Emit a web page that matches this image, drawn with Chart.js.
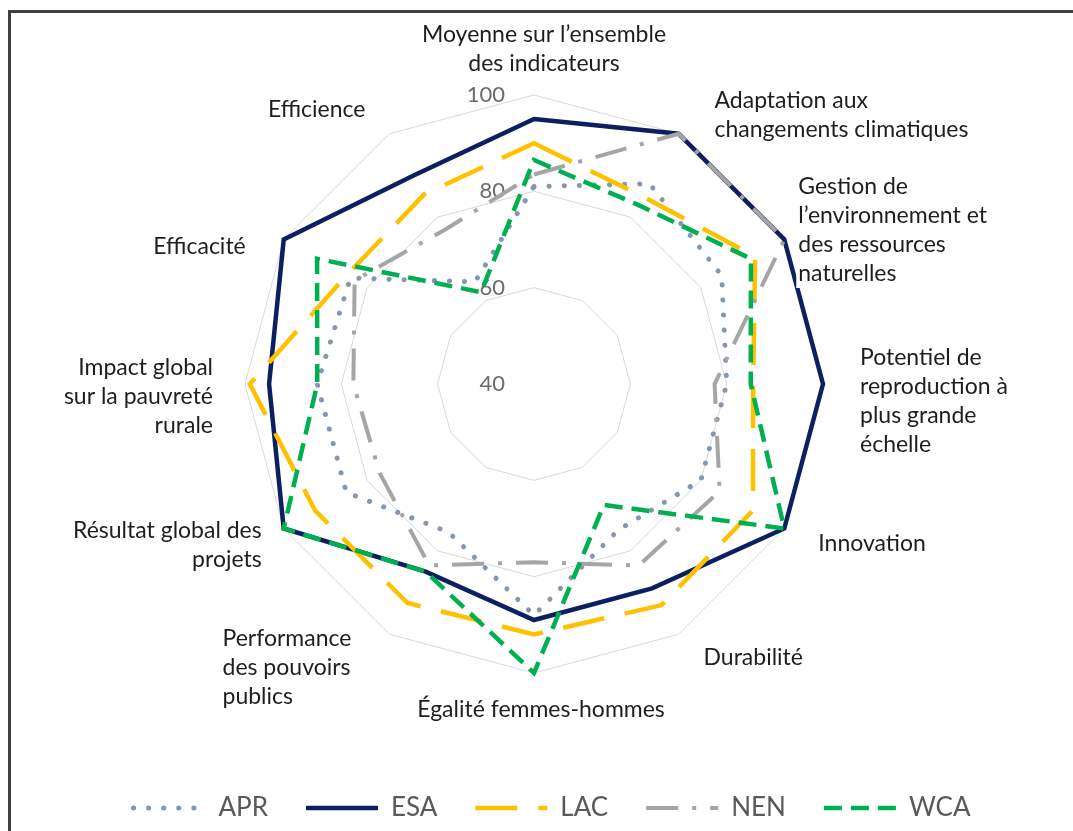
<!DOCTYPE html>
<html>
<head>
<meta charset="utf-8">
<script src="https://cdn.jsdelivr.net/npm/chart.js@4/dist/chart.umd.min.js"></script>
<style>
  html, body { margin: 0; padding: 0; background: #fff; overflow: hidden; }
  #wrap { position: relative; width: 1073px; height: 831px; overflow: hidden; }
  #frame { position: absolute; left: 8px; top: 10px; width: 1200px; height: 1000px;
    border-left: 3px solid #404040; border-top: 3px solid #404040; }
  #chart { position: absolute; left: 0; top: 0; }
</style>
</head>
<body>
<div id="wrap">
  <div id="frame"></div>
  <canvas id="chart" width="1073" height="831"></canvas>
</div>
<script>
// axes of the radar, clockwise from the top
const categories = [
  ['Moyenne sur l’ensemble', 'des indicateurs'],
  ['Adaptation aux', 'changements climatiques'],
  ['Gestion de', 'l’environnement et', 'des ressources', 'naturelles'],
  ['Potentiel de', 'reproduction à', 'plus grande', 'échelle'],
  ['Innovation'],
  ['Durabilité'],
  ['Égalité femmes-hommes'],
  ['Performance', 'des pouvoirs', 'publics'],
  ['Résultat global des', 'projets'],
  ['Impact global', 'sur la pauvreté', 'rurale'],
  ['Efficacité'],
  ['Efficience']
]

const apr = [81, 88, 85, 80, 80, 75, 88, 75.5, 85, 85, 84, 64.5]
const esa = [95, 100, 100, 100, 100, 89, 89, 85, 100, 95, 100, 90]
const lac = [90, 85, 93, 85.5, 92.5, 93, 92, 92.5, 92.5, 99, 85, 85.5]
const nen = [83.5, 100, 100, 77.5, 84.5, 83.5, 77, 83.5, 77, 77.5, 83, 77]
const wca = [86.5, 83, 92, 85, 100, 69, 100, 85, 100, 85, 92, 62]

const tickValues = [40, 60, 80, 100]

// where each axis title sits, relative to the outer ring vertex
const labelLayout = [
  { align: 'center', dx: 10, dy: -60 },
  { align: 'left', dx: 36, dy: -33 },
  { align: 'left', dx: 14, dy: -53 },
  { align: 'left', dx: 37, dy: -26 },
  { align: 'left', dx: 34, dy: 15 },
  { align: 'left', dx: 25, dy: 23 },
  { align: 'center', dx: 7, dy: 37 },
  { align: 'left', dx: -167, dy: 4 },
  { align: 'right', dx: -22, dy: 2 },
  { align: 'right', dx: -32, dy: -16 },
  { align: 'right', dx: -38, dy: 7 },
  { align: 'right', dx: -24, dy: -24 }
]

const FONT = 'Lato'

const axisText = {
  id: 'axisText',
  afterLayout(chart) {
    // legend sits a bit right of the plot centre in the original
    chart.legend.left += 18
    chart.legend.right += 18
  },
  beforeDatasetsDraw(chart) {
    const r = chart.scales.r
    const ctx = chart.ctx
    ctx.save()
    ctx.font = `22px ${FONT}`
    ctx.fillStyle = '#6b6b6b'
    ctx.textAlign = 'right'
    ctx.textBaseline = 'middle'
    tickValues.forEach(v => {
      ctx.fillText(String(v), r.xCenter - 29, r.yCenter - r.getDistanceFromCenterForValue(v))
    })
    ctx.restore()
  },
  afterDatasetsDraw(chart) {
    const r = chart.scales.r
    const ctx = chart.ctx
    const lineH = 29
    ctx.save()
    ctx.font = `23px ${FONT}`
    ctx.textBaseline = 'middle'
    categories.forEach((lines, i) => {
      const p = r.getPointPosition(i, r.drawingArea)
      const l = labelLayout[i]
      const x = p.x + l.dx
      lines.forEach((t, k) => {
        const y = p.y + l.dy + k * lineH
        const w = ctx.measureText(t).width
        const left = l.align === 'left' ? x : l.align === 'right' ? x - w : x - w / 2
        ctx.fillStyle = '#fff'
        ctx.fillRect(left - 2, y - lineH / 2, w + 4, lineH)
        ctx.fillStyle = '#1e1e1e'
        ctx.textAlign = 'left'
        ctx.fillText(t, left, y)
      })
    })
    ctx.restore()
  }
}

function start() {
  const ctx = document.getElementById('chart').getContext('2d')
  new Chart(ctx, {
    type: 'radar',
    data: {
      labels: categories,
      datasets: [
        { label: 'APR', data: apr, borderColor: '#8497b0', backgroundColor: '#8497b0',
          borderWidth: 5, borderDash: [0.1, 15], borderCapStyle: 'round', borderJoinStyle: 'round', order: 5 },
        { label: 'ESA', data: esa, borderColor: '#0b2060', backgroundColor: '#0b2060',
          borderWidth: 4.5, order: 4 },
        { label: 'LAC', data: lac, borderColor: '#ffc000', backgroundColor: '#ffc000',
          borderWidth: 4.5, borderDash: [42, 21], order: 3 },
        { label: 'NEN', data: nen, borderColor: '#a5a5a5', backgroundColor: '#a5a5a5',
          borderWidth: 4, borderDash: [32, 14, 4, 14], order: 2 },
        { label: 'WCA', data: wca, borderColor: '#00b050', backgroundColor: '#00b050',
          borderWidth: 4.5, borderDash: [18, 9], order: 1 }
      ]
    },
    options: {
      responsive: false,
      animation: false,
      layout: { padding: { top: 95, bottom: 0, left: 0, right: 5 } },
      elements: {
        point: { radius: 0, hoverRadius: 0, hitRadius: 0 },
        line: { tension: 0, fill: false, borderJoinStyle: 'miter' }
      },
      scales: {
        r: {
          min: 40,
          max: 100,
          ticks: { stepSize: 20, display: false },
          grid: { color: '#d9d9d9', lineWidth: 1 },
          angleLines: { display: false },
          pointLabels: { display: false }
        }
      },
      plugins: {
        tooltip: { enabled: false },
        legend: {
          position: 'bottom',
          title: { display: true, text: '', padding: { top: 74, bottom: 0 }, font: { size: 10, lineHeight: 1 } },
          labels: {
            usePointStyle: true,
            pointStyle: 'line',
            pointStyleWidth: 72,
            padding: 38,
            color: '#595959',
            font: { family: FONT, size: 26 },
            generateLabels: chart => chart.data.datasets.map((ds, i) => ({
              text: ds.label,
              datasetIndex: i,
              hidden: false,
              pointStyle: 'line',
              fillStyle: ds.borderColor,
              strokeStyle: ds.borderColor,
              lineWidth: ds.borderWidth,
              lineDash: ds.borderDash || [],
              lineCap: ds.borderCapStyle || 'butt',
              fontColor: '#595959'
            }))
          }
        }
      }
    },
    plugins: [axisText]
  })
}

document.fonts.load(`23px ${FONT}`).then(start, start)
</script>
</body>
</html>
